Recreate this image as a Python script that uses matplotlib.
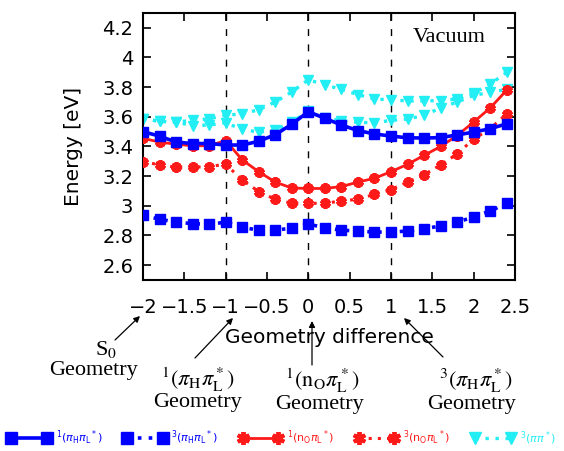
import matplotlib
matplotlib.use("Agg")
import matplotlib.pyplot as plt
from matplotlib.ticker import FixedLocator, FuncFormatter

# ---- data ----
geometry = [-2.0, -1.8, -1.6, -1.4, -1.2, -1.0, -0.8, -0.6, -0.4, -0.2, 0.0,
            0.2, 0.4, 0.6, 0.8, 1.0, 1.2, 1.4, 1.6, 1.8, 2.0, 2.2, 2.4]
singlet_pipi = [3.50, 3.47, 3.43, 3.42, 3.42, 3.41, 3.41, 3.435, 3.48, 3.55, 3.635,
                3.59, 3.545, 3.507, 3.485, 3.47, 3.459, 3.457, 3.46, 3.478, 3.497, 3.52, 3.553]
triplet_pipi = [2.936, 2.91, 2.89, 2.88, 2.875, 2.89, 2.855, 2.836, 2.836, 2.85, 2.877,
                2.852, 2.836, 2.83, 2.823, 2.823, 2.83, 2.846, 2.864, 2.89, 2.925, 2.965, 3.017]
singlet_npi = [3.455, 3.43, 3.415, 3.405, 3.405, 3.44, 3.31, 3.23, 3.16, 3.12, 3.117,
               3.117, 3.13, 3.16, 3.186, 3.23, 3.28, 3.34, 3.40, 3.474, 3.565, 3.66, 3.78]
triplet_npi = [3.297, 3.277, 3.26, 3.26, 3.265, 3.28, 3.175, 3.096, 3.044, 3.017, 3.017,
               3.017, 3.033, 3.044, 3.078, 3.11, 3.16, 3.21, 3.276, 3.35, 3.45, 3.52, 3.62]
triplet_pipi2_upper = [3.587, 3.57, 3.565, 3.576, 3.587, 3.61, 3.62, 3.648, 3.70, 3.768, 3.85,
                       3.816, 3.785, 3.75, 3.72, 3.715, 3.707, 3.707, 3.71, 3.72, 3.76, 3.82, 3.90]
triplet_pipi2_lower = [3.587, 3.57, 3.565, 3.54, 3.545, 3.56, 3.515, 3.497, 3.51, 3.565, 3.636,
                       3.59, 3.575, 3.563, 3.56, 3.576, 3.585, 3.61, 3.66, 3.70, 3.745, 3.765, 3.785]

x_ticks = [-2, -1.5, -1, -0.5, 0, 0.5, 1, 1.5, 2, 2.5]
y_ticks = [2.6, 2.8, 3.0, 3.2, 3.4, 3.6, 3.8, 4.0, 4.2]
marked_geometries = [-1, 0, 1]

labels = [r"$^1(\pi_\mathrm{H}\pi_\mathrm{L}{}^*)$", r"$^3(\pi_\mathrm{H}\pi_\mathrm{L}{}^*)$",
          r"$^1(\mathrm{n_O}\pi_\mathrm{L}{}^*)$", r"$^3(\mathrm{n_O}\pi_\mathrm{L}{}^*)$",
          r"$^3(\pi\pi^*)$"]

BLUE = "#0000ff"
RED = "#ff1a1a"
CYAN = "#22eef4"

plt.rcParams["mathtext.fontset"] = "stix"

fig = plt.figure(figsize=(5.64, 4.51), dpi=100)
ax = fig.add_axes([143 / 564, 1 - 280 / 451, (515 - 143) / 564, (280 - 13) / 451])

for gx in marked_geometries:
    ax.axvline(gx, color="black", lw=1.0, ls=(0, (5, 6)), zorder=1)

ast = (6, 2, 0)
dot = (0, (1, 2.0))
l3 = ax.plot(geometry, triplet_pipi2_upper, color=CYAN, ls=dot, lw=2.4,
             marker="v", ms=6.8, zorder=2)[0]
ax.plot(geometry, triplet_pipi2_lower, color=CYAN, ls=dot, lw=2.4,
        marker="v", ms=6.8, zorder=2)
l2 = ax.plot(geometry, triplet_npi, color=RED, ls=dot, lw=2.2,
             marker=ast, ms=7.5, mew=2.8, zorder=3)[0]
l1 = ax.plot(geometry, singlet_npi, color=RED, ls="-", lw=2.0,
             marker=ast, ms=7.5, mew=2.8, zorder=3)[0]
l4 = ax.plot(geometry, triplet_pipi, color=BLUE, ls=dot, lw=2.6,
             marker="s", ms=7.2, zorder=4)[0]
l0 = ax.plot(geometry, singlet_pipi, color=BLUE, ls="-", lw=2.6,
             marker="s", ms=7.2, zorder=4)[0]

ax.set_xlim(-2, 2.5)
ax.set_ylim(2.5, 4.3)
ax.xaxis.set_major_locator(FixedLocator(x_ticks))
ax.yaxis.set_major_locator(FixedLocator(y_ticks))
fmt = FuncFormatter(lambda v, p: f"{v:g}".replace("-", "\u2212"))
ax.xaxis.set_major_formatter(fmt)
ax.yaxis.set_major_formatter(fmt)
ax.tick_params(direction="in", top=True, right=True, length=6, width=1.2,
               labelsize=14, pad=7)
ax.tick_params(axis="x", pad=13)
for s in ax.spines.values():
    s.set_linewidth(1.5)

ax.set_ylabel("Energy [eV]", fontsize=14.5, labelpad=14)
ax.set_xlabel("Geometry difference", fontsize=14.5, labelpad=8)

ax.text(449 / 564, 1 - 37 / 451, "Vacuum", transform=fig.transFigure,
        family="Liberation Serif", fontsize=16, ha="center", va="center")

# annotations below the axis
serif = dict(family="Liberation Serif", fontsize=16, ha="center", va="center",
             math_fontfamily="stix")
annots = [
    (-2, r"S$_0$", (106, 350), "Geometry", (93, 370), (115, 340)),
    (-1, r"$^1(\pi_\mathrm{H}\pi_\mathrm{L}^*)$", (198, 380), "Geometry", (198, 402), (195, 358)),
    (0, r"$^1(\mathrm{n_O}\pi_\mathrm{L}^*)$", (322, 381), "Geometry", (320, 405), (312, 365)),
    (1, r"$^3(\pi_\mathrm{H}\pi_\mathrm{L}^*)$", (476, 381), "Geometry", (472, 405), (443, 357)),
]
tips = {-2: (140, 316), -1: (233, 318), 0: (312, 321), 1: (404, 318)}
for gx, t1, p1, t2, p2, tail in annots:
    fig.text(p1[0] / 564, 1 - p1[1] / 451, t1, **serif)
    fig.text(p2[0] / 564, 1 - p2[1] / 451, t2, **serif)
    tip = tips[gx]
    ax.annotate("", xy=(tip[0] / 564, 1 - tip[1] / 451), xycoords="figure fraction",
                xytext=(tail[0] / 564, 1 - tail[1] / 451), textcoords="figure fraction",
                arrowprops=dict(arrowstyle="-|>", color="black", lw=0.9,
                                mutation_scale=9, shrinkA=0, shrinkB=0),
                annotation_clip=False)

leg = fig.legend([l0, l4, l1, l2, l3], labels, loc="center", ncol=5,
                 bbox_to_anchor=(0.5, 1 - 438 / 451), frameon=False, fontsize=8,
                 numpoints=2, handlelength=3.8, handletextpad=0.5, columnspacing=1.9,
                 markerscale=1.25, labelcolor="linecolor")
for t in leg.get_texts():
    t.set_math_fontfamily("dejavusans")

fig.savefig("out.png", dpi=100)
